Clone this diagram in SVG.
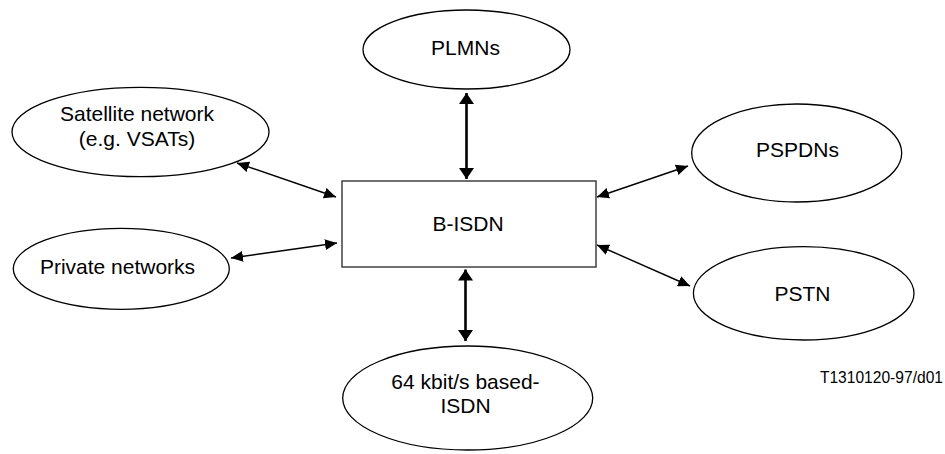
<svg xmlns="http://www.w3.org/2000/svg" width="945" height="454" viewBox="0 0 945 454">
<style>
.n{fill:#fff;stroke:#000;stroke-width:1.3}
.b{fill:#fff;stroke:#333;stroke-width:1.4}
.t{font-family:"Liberation Sans",Arial,sans-serif;font-size:21px;fill:#000;text-anchor:middle}
.s{font-family:"Liberation Sans",Arial,sans-serif;font-size:15.6px;fill:#000;text-anchor:end}
.c{stroke:#000;stroke-width:1.4;fill:none;marker-start:url(#ah);marker-end:url(#ah)}
.cb{stroke:#000;stroke-width:2.6;fill:none;marker-start:url(#ahb);marker-end:url(#ahb)}
</style>
<defs>
<marker id="ah" markerUnits="userSpaceOnUse" markerWidth="12" markerHeight="11" refX="11" refY="5" orient="auto-start-reverse" viewBox="0 0 11 10"><path d="M0,0 L11,5 L0,10 z" fill="#000"/></marker>
<marker id="ahb" markerUnits="userSpaceOnUse" markerWidth="12" markerHeight="15" refX="11" refY="7.5" orient="auto-start-reverse" viewBox="0 0 11 15"><path d="M0,0 L11,7.5 L0,15 z" fill="#000"/></marker>
</defs>
<g id="connectors">
<line class="cb" x1="466.5" y1="93" x2="466.5" y2="179"/>
<line class="cb" x1="465.5" y1="269.5" x2="465.5" y2="341"/>
<line class="c" x1="237" y1="163" x2="336" y2="197"/>
<line class="c" x1="231" y1="258" x2="337" y2="243"/>
<line class="c" x1="597" y1="197" x2="688" y2="166"/>
<line class="c" x1="597" y1="245" x2="690" y2="286"/>
</g>
<g id="bisdn">
<rect class="b" x="342" y="181" width="254" height="86"/>
<text class="t" x="468" y="230.5">B-ISDN</text>
</g>
<g id="plmns">
<ellipse class="n" cx="466.5" cy="49.5" rx="103.5" ry="39.5"/>
<text class="t" x="465.5" y="54.5">PLMNs</text>
</g>
<g id="satellite">
<ellipse class="n" cx="140.5" cy="132" rx="128.5" ry="44.7"/>
<text class="t" x="137" y="120.5">Satellite network</text>
<text class="t" x="137" y="145.5">(e.g. VSATs)</text>
</g>
<g id="private">
<ellipse class="n" cx="121.3" cy="268.8" rx="108" ry="40.5"/>
<text class="t" x="117.5" y="273.5">Private networks</text>
</g>
<g id="pspdns">
<ellipse class="n" cx="796.7" cy="153" rx="105" ry="49"/>
<text class="t" x="797.5" y="156.5">PSPDNs</text>
</g>
<g id="pstn">
<ellipse class="n" cx="803.7" cy="293.3" rx="110.3" ry="46.7"/>
<text class="t" x="802.5" y="301">PSTN</text>
</g>
<g id="isdn64">
<ellipse class="n" cx="467.7" cy="398" rx="125" ry="52"/>
<text class="t" x="465.5" y="388.5">64 kbit/s based-</text>
<text class="t" x="465.5" y="412.5">ISDN</text>
</g>
<text class="s" x="943" y="383.3">T1310120-97/d01</text>
</svg>
